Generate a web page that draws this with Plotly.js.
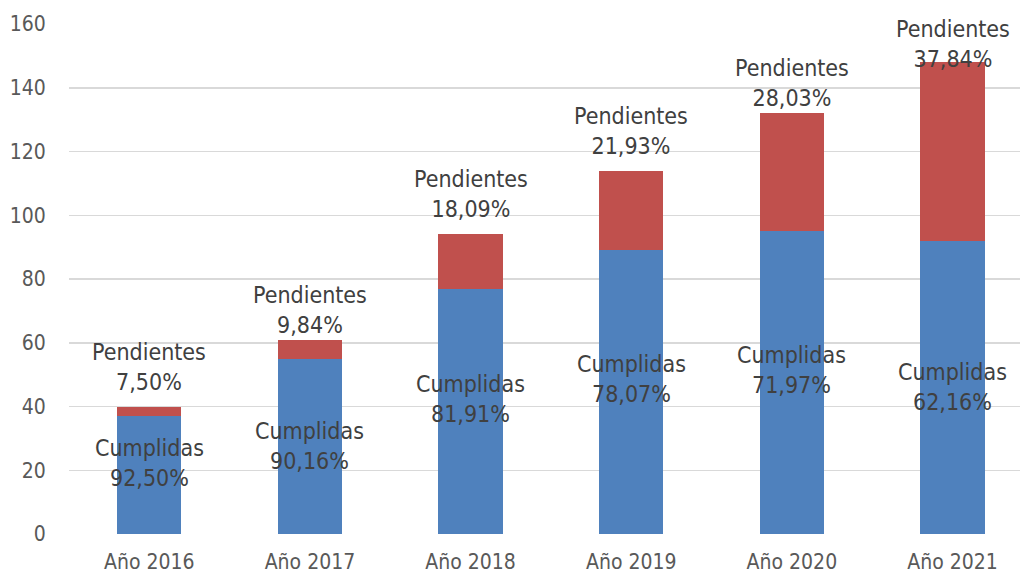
<!DOCTYPE html>
<html>
<head>
<meta charset="utf-8">
<script src="https://cdn.plot.ly/plotly-3.0.1.min.js"></script>
<style>
  html, body { margin: 0; padding: 0; background: #fff; }
  #chart { width: 1020px; height: 574px; }
</style>
</head>
<body>
<div id="chart"></div>
<script>
// datos
var anios = ['Año 2016', 'Año 2017', 'Año 2018', 'Año 2019', 'Año 2020', 'Año 2021'];
var cumplidas = [37, 55, 77, 89, 95, 92];
var pendientes = [3, 6, 17, 25, 37, 56];
var pctCumplidas = ['92,50%', '90,16%', '81,91%', '78,07%', '71,97%', '62,16%'];
var pctPendientes = ['7,50%', '9,84%', '18,09%', '21,93%', '28,03%', '37,84%'];

// desplazamiento (px) de las etiquetas, como en el original
var shiftCumplidas = [12, 0, 12, 13, 13, 0];
var shiftPendientes = [10, 0, 10, 10, 0, -12];

var labelFont = { family: 'DejaVu Sans Condensed, DejaVu Sans, sans-serif', size: 23, color: '#404040' };
var tickFont = { family: 'DejaVu Sans Condensed, DejaVu Sans, sans-serif', size: 21, color: '#595959' };

var trCumplidas = {
    x: anios,
    y: cumplidas,
    name: 'Cumplidas',
    type: 'bar',
    width: 0.4,
    marker: { color: '#4F81BD' },
    hoverinfo: 'none'
};

var trPendientes = {
    x: anios,
    y: pendientes,
    name: 'Pendientes',
    type: 'bar',
    width: 0.4,
    marker: { color: '#C0504D' },
    hoverinfo: 'none'
};

var annotations = [];
for (var i = 0; i < anios.length; i++) {
    var total = cumplidas[i] + pendientes[i];
    annotations.push({
        x: anios[i], y: cumplidas[i] / 2,
        text: 'Cumplidas<br>' + pctCumplidas[i],
        showarrow: false, font: labelFont,
        yanchor: 'middle', yshift: shiftCumplidas[i]
    });
    annotations.push({
        x: anios[i], y: total,
        text: 'Pendientes<br>' + pctPendientes[i],
        showarrow: false, font: labelFont,
        yanchor: 'bottom', yshift: shiftPendientes[i]
    });
}

var layout = {
    barmode: 'stack',
    showlegend: false,
    paper_bgcolor: '#fff',
    plot_bgcolor: '#fff',
    margin: { l: 69, r: 0, t: 24, b: 40 },
    xaxis: {
        type: 'category',
        range: [-0.5, 5.42],
        tickfont: tickFont,
        ticks: 'outside',
        ticklen: 9,
        tickcolor: 'rgba(0,0,0,0)',
        showgrid: false,
        zeroline: false,
        showline: false
    },
    yaxis: {
        range: [0, 160],
        dtick: 20,
        tickfont: tickFont,
        ticks: 'outside',
        ticklen: 18,
        tickcolor: 'rgba(0,0,0,0)',
        gridcolor: '#d9d9d9',
        gridwidth: 1.5,
        zeroline: false,
        showline: false
    },
    annotations: annotations
};

Plotly.newPlot('chart', [trCumplidas, trPendientes], layout, { staticPlot: true });
</script>
</body>
</html>
